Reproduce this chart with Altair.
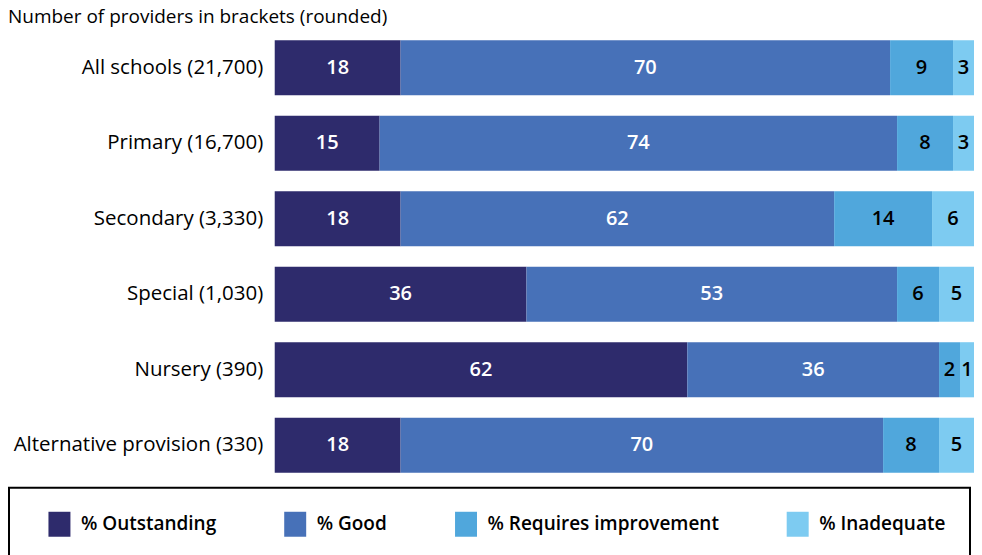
import altair as alt
import pandas as pd

categories = [
    "All schools (21,700)",
    "Primary (16,700)",
    "Secondary (3,330)",
    "Special (1,030)",
    "Nursery (390)",
    "Alternative provision (330)",
]
ratings = ["% Outstanding", "% Good", "% Requires improvement", "% Inadequate"]
colors = ["#2e2b6c", "#4771b8", "#50a7dc", "#7dcbf1"]

# printed labels (percent)
outstanding = [18, 15, 18, 36, 62, 18]
good = [70, 74, 62, 53, 36, 70]
requires_improvement = [9, 8, 14, 6, 2, 8]
inadequate = [3, 3, 6, 5, 1, 5]

# bar lengths (differ from labels only for Nursery)
bar_outstanding = [18, 15, 18, 36, 59, 18]
bar_good = [70, 74, 62, 53, 36, 69]
bar_requires_improvement = [9, 8, 14, 6, 3, 8]
bar_inadequate = [3, 3, 6, 5, 2, 5]

labels = [outstanding, good, requires_improvement, inadequate]
bars = [bar_outstanding, bar_good, bar_requires_improvement, bar_inadequate]

rows = []
for ri, r in enumerate(ratings):
    for ci, c in enumerate(categories):
        rows.append({"category": c, "rating": r, "order": ri,
                     "value": bars[ri][ci], "label": labels[ri][ci]})
df = pd.DataFrame(rows)

FONT = "Open Sans"

base = alt.Chart(df).transform_stack(
    stack="value", groupby=["category"], as_=["v1", "v2"],
    offset="normalize", sort=[alt.SortField("order", order="ascending")]
).transform_calculate(mid="(datum.v1 + datum.v2) / 2")

y_enc = alt.Y("category:N", sort=categories, title=None,
              scale=alt.Scale(paddingInner=0.27, paddingOuter=0),
              axis=alt.Axis(domain=False, ticks=False, labelFontSize=20.5,
                            labelFont=FONT, labelColor="#000000",
                            labelPadding=12, labelLimit=400))

barlayer = base.mark_bar().encode(
    x=alt.X("v1:Q", axis=None, scale=alt.Scale(domain=[0, 1], nice=False)),
    x2="v2:Q",
    y=y_enc,
    color=alt.Color("rating:N", sort=ratings,
                    scale=alt.Scale(domain=ratings, range=colors),
                    legend=alt.Legend(
                        title=" ", titleOrient="left", titleFontSize=1,
                        titleColor="transparent", titlePadding=14,
                        orient="none", legendX=-266, legendY=448,
                        direction="horizontal", columns=4,
                        gridAlign="none",
                        symbolType="M-0.88,-1H0.88V1H-0.88Z", symbolSize=625,
                        symbolStrokeWidth=0, symbolOpacity=1,
                        labelFont=FONT, labelFontSize=19, labelFontWeight=600,
                        labelColor="#000000", labelOffset=9, labelLimit=400,
                        columnPadding=66, padding=24,
                        strokeColor="#000000", fillColor="white")),
)

textlayer = base.mark_text(font=FONT, fontSize=20, fontWeight=600).encode(
    x=alt.X("mid:Q", axis=None, scale=alt.Scale(domain=[0, 1], nice=False)),
    y=alt.Y("category:N", sort=categories),
    text=alt.Text("label:Q"),
    color=alt.condition(
        "datum.order < 2", alt.value("#ffffff"), alt.value("#000000")),
)

chart = alt.layer(barlayer, textlayer).properties(
    width=700, height=433,
    padding=0,
    title=alt.TitleParams(
        "Number of providers in brackets (rounded)", anchor="start",
        frame="bounds", fontSize=19, fontWeight="normal", font=FONT,
        color="#000000", offset=13),
).configure_view(stroke=None).configure_legend(strokeWidth=2)

chart.save("out.html", embed_options={"renderer": "svg", "actions": False})
